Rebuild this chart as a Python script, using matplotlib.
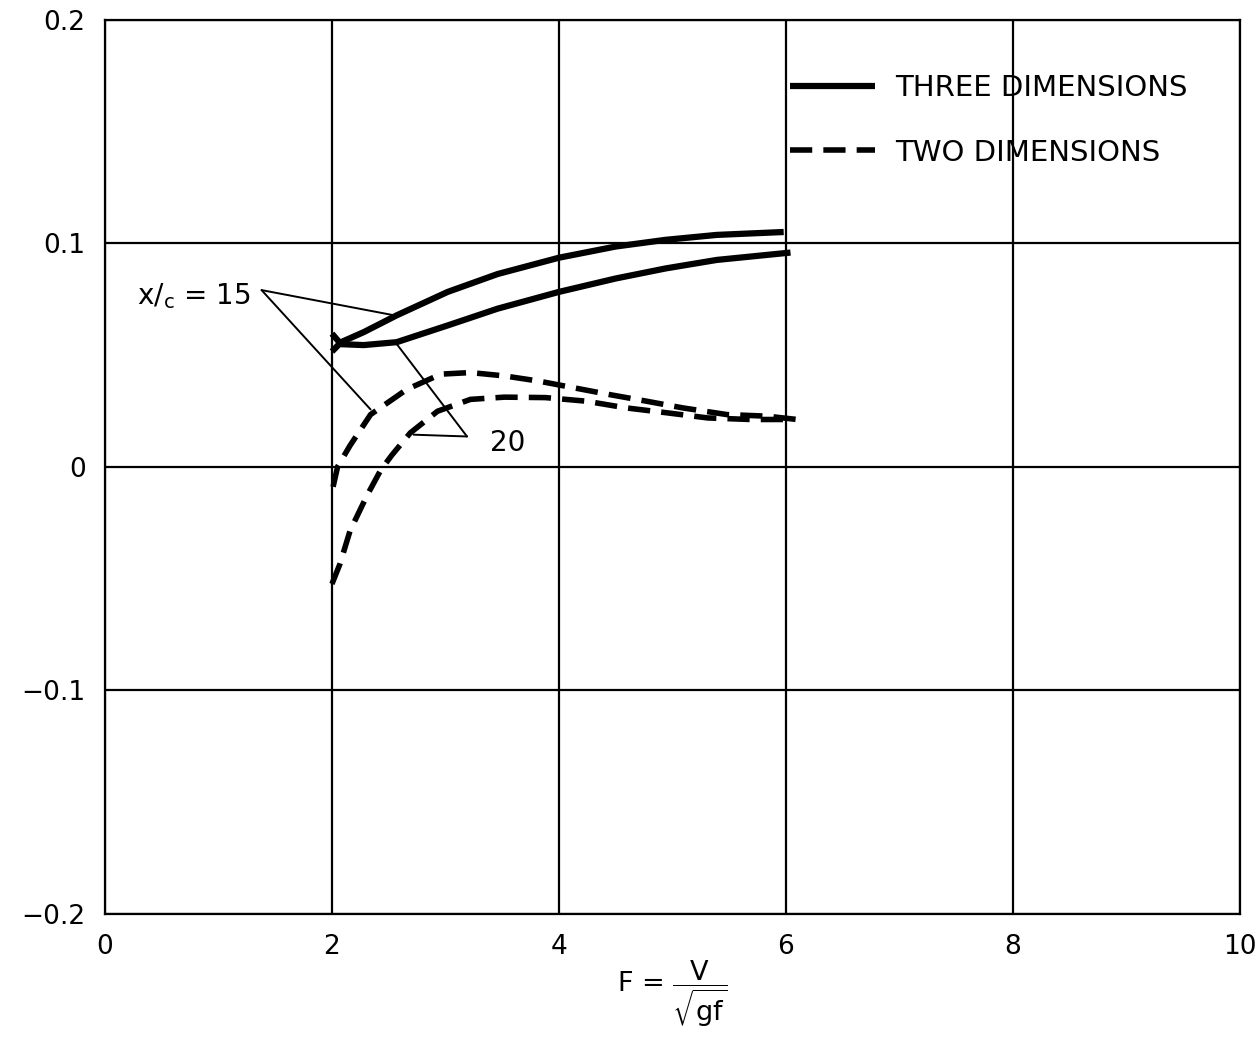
# Froude number plot: three vs two dimensions
import matplotlib.pyplot as plt
import numpy as np

plt.rcParams.update({'font.size': 19})
plt.rcParams['font.family'] = 'DejaVu Sans'
plt.rcParams['mathtext.fontset'] = 'dejavusans'

# three dimensions (solid), x/c = 15 and 20
f3_15 = [2.0, 2.08, 2.28, 2.57, 3.02, 3.46, 4.0, 4.5, 4.94, 5.39, 5.98]
y3_15 = [0.0515, 0.0557, 0.0602, 0.0677, 0.0782, 0.0862, 0.0935, 0.0985, 0.1015, 0.1037, 0.1050]
f3_20 = [2.0, 2.08, 2.28, 2.57, 3.02, 3.46, 4.0, 4.5, 4.94, 5.39, 6.04]
y3_20 = [0.0595, 0.0548, 0.0544, 0.0557, 0.0632, 0.0707, 0.0782, 0.0842, 0.0887, 0.0925, 0.0958]

# two dimensions (dashed), x/c = 15 and 20
f2_15 = [2.01, 2.05, 2.16, 2.34, 2.66, 2.96, 3.22, 3.52, 3.82, 4.12, 4.44, 4.77, 5.09, 5.48, 5.83, 6.1]
y2_15 = [-0.009, 0.0, 0.0095, 0.0233, 0.0346, 0.0414, 0.0421, 0.0406, 0.0383, 0.0354, 0.0323,
         0.0293, 0.0263, 0.0233, 0.0226, 0.0211]
f2_20 = [2.0, 2.07, 2.16, 2.31, 2.43, 2.53, 2.69, 2.93, 3.22, 3.52, 3.88, 4.24, 4.59, 4.95, 5.31, 5.69, 6.07]
y2_20 = [-0.0525, -0.0436, -0.0286, -0.0128, -0.0015, 0.0053, 0.0151, 0.0248, 0.0301, 0.0311, 0.0309,
         0.0293, 0.0263, 0.0241, 0.0218, 0.0211, 0.0211]

# axis ticks
xticks = [0, 2, 4, 6, 8, 10]
xtick_labels = ['0', '2', '4', '6', '8', '10']
yticks = [-0.2, -0.1, 0, 0.1, 0.2]
ytick_labels = ['\u22120.2', '\u22120.1', '0', '0.1', '0.2']

# leader lines for the curve labels (tip, targets)
tip15 = (1.38, 0.079)
targets15 = [(2.55, 0.0677), (2.34, 0.0256)]
tip20 = (3.19, 0.0135)
targets20 = [(2.57, 0.0549), (2.72, 0.0143)]

fig = plt.figure(figsize=(12.6, 10.37), dpi=100)
ax = fig.add_axes([0.0833, 0.119, 0.9008, 0.862])

ax.plot(f3_15, y3_15, color='black', lw=4.5, solid_capstyle='butt', solid_joinstyle='round',
        label='THREE DIMENSIONS')
ax.plot(f3_20, y3_20, color='black', lw=4.5, solid_capstyle='butt', solid_joinstyle='round')
ax.plot(f2_15, y2_15, color='black', lw=4, ls=(0, (4, 2)), label='TWO DIMENSIONS')
ax.plot(f2_20, y2_20, color='black', lw=4, ls=(0, (4, 2)))

# leader lines
for t in targets15:
    ax.annotate('', xy=t, xytext=tip15,
                arrowprops=dict(arrowstyle='-', color='black', lw=1.4, shrinkA=0, shrinkB=0))
for t in targets20:
    ax.annotate('', xy=t, xytext=tip20,
                arrowprops=dict(arrowstyle='-', color='black', lw=1.4, shrinkA=0, shrinkB=0))
ax.text(tip15[0] - 0.1, 0.0761, r'x/$_\mathrm{c}$ = 15', ha='right', va='center', fontsize=20)
ax.text(3.39, 0.0107, '20', ha='left', va='center', fontsize=20)

ax.set_xlim(0, 10)
ax.set_ylim(-0.2, 0.2)
ax.set_xticks(xticks)
ax.set_xticklabels(xtick_labels)
ax.set_yticks(yticks)
ax.set_yticklabels(ytick_labels)
ax.tick_params(length=0, labelsize=19)
ax.tick_params(axis='x', pad=15)
ax.tick_params(axis='y', pad=14)
ax.grid(True, color='black', lw=1.6)
for s in ax.spines.values():
    s.set_linewidth(1.6)

ax.set_xlabel(r'F = $\dfrac{\mathrm{V}}{\sqrt{\mathrm{gf}}}$', fontsize=19.5, labelpad=-1)

ax.legend(loc='upper left', bbox_to_anchor=(0.6035, 0.939), frameon=False,
          handlelength=2.9, handletextpad=0.7, labelspacing=1.25,
          borderpad=0, borderaxespad=0, fontsize=21)

plt.savefig('out.png', dpi=100)
